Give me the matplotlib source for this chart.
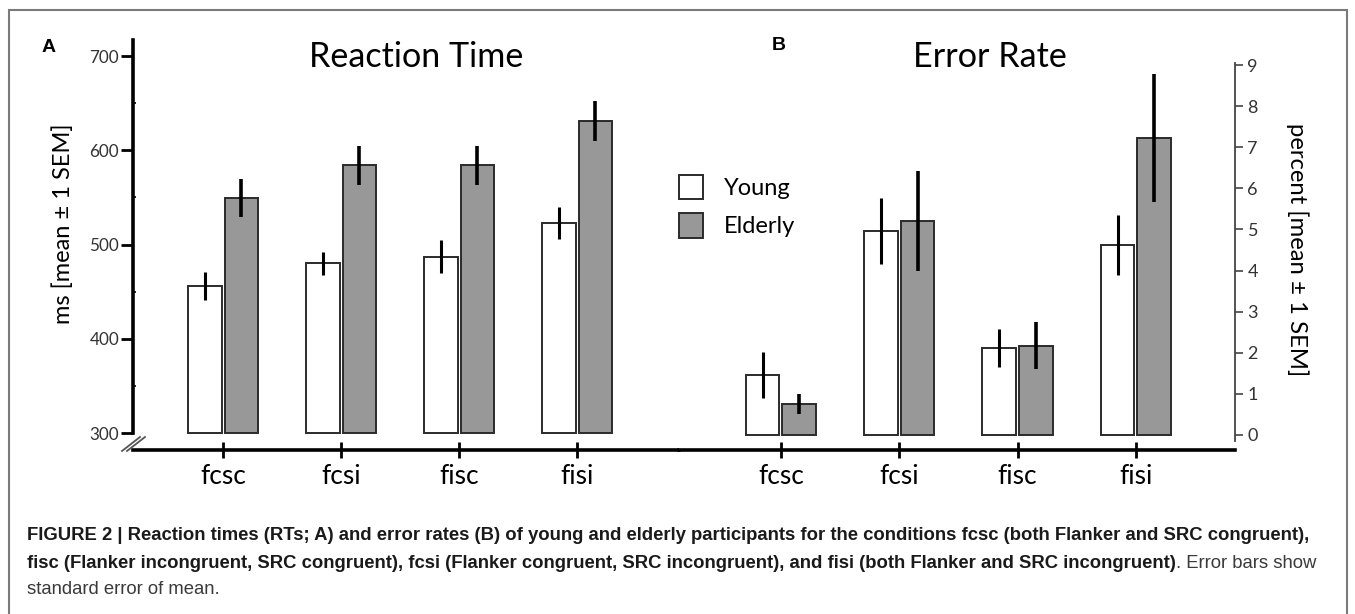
import numpy as np
import matplotlib
matplotlib.use('Agg')
import matplotlib.pyplot as plt
from matplotlib.lines import Line2D
from matplotlib.patches import Rectangle

# data
conditions = ['fcsc', 'fcsi', 'fisc', 'fisi']
groups = ['Young', 'Elderly']

rt_young = [456, 480, 487, 523]
rt_young_sem = [15, 12, 17.5, 17]
rt_elderly = [549, 584, 584, 631]
rt_elderly_sem = [20, 21, 21, 21.5]

er_young = [1.46, 4.96, 2.11, 4.62]
er_young_sem = [0.56, 0.80, 0.46, 0.73]
er_elderly = [0.75, 5.21, 2.17, 7.22]
er_elderly_sem = [0.25, 1.22, 0.57, 1.56]

caption_1 = ('FIGURE 2 | Reaction times (RTs; A) and error rates (B) of young and elderly '
             'participants for the conditions fcsc (both Flanker and SRC congruent),')
caption_2 = ('fisc (Flanker incongruent, SRC congruent), fcsi (Flanker congruent, SRC incongruent), '
             'and fisi (both Flanker and SRC incongruent)')
caption_2b = '. Error bars show'
caption_3 = 'standard error of mean.'

W, H = 1355, 614
FONT = 'Lato'
CAP_FONT = 'Liberation Sans'
ELDERLY_GREY = '#989898'
EDGE = '#2b2b2b'


def fx(x):
    return x / W


def fy(y):
    return 1 - y / H


plt.rcParams['font.family'] = [FONT, 'DejaVu Sans']
fig = plt.figure(figsize=(W / 100, H / 100), dpi=100)

ax1 = fig.add_axes([fx(133), fy(450), (679 - 133) / W, (450 - 40) / H])
ax2 = fig.add_axes([fx(679), fy(450), (1235 - 679) / W, (450 - 40) / H])

x = np.arange(len(conditions))
width = 0.285
off = 0.155


def draw_bars(ax, young, young_sem, elderly, elderly_sem, base):
    b1 = ax.bar(x - off, np.array(young) - base, width, bottom=base, color='white',
                edgecolor=EDGE, linewidth=1.4, label=groups[0], zorder=2)
    b2 = ax.bar(x + off, np.array(elderly) - base, width, bottom=base, color=ELDERLY_GREY,
                edgecolor=EDGE, linewidth=1.4, label=groups[1], zorder=2)
    ax.errorbar(x - off, young, yerr=young_sem, fmt='none', ecolor='black',
                elinewidth=2.2, capsize=0, zorder=3)
    ax.errorbar(x + off, elderly, yerr=elderly_sem, fmt='none', ecolor='black',
                elinewidth=2.6, capsize=0, zorder=3)
    return b1, b2


# Panel A: reaction time
b1, b2 = draw_bars(ax1, rt_young, rt_young_sem, rt_elderly, rt_elderly_sem, 300)
ax1.set_xlim(-0.763, 3.864)
ax1.set_ylim(282, 717)
for s in ['top', 'right']:
    ax1.spines[s].set_visible(False)
ax1.spines['left'].set_bounds(300, 717)
ax1.spines['left'].set_linewidth(2.6)
ax1.spines['bottom'].set_linewidth(2.6)
ax1.set_yticks([300, 400, 500, 600, 700])
ax1.set_yticks([350, 450, 550, 650], minor=True)
ax1.tick_params(axis='y', which='major', direction='out', length=9, width=2,
                labelsize=12.3, labelcolor='#333333', pad=1)
ax1.tick_params(axis='y', which='minor', direction='in', length=2.5, width=1.2)
ax1.set_xticks(x)
ax1.set_xticklabels(conditions)
ax1.tick_params(axis='x', direction='inout', length=12, width=2, labelsize=19, pad=4)

# Panel B: error rate
draw_bars(ax2, er_young, er_young_sem, er_elderly, er_elderly_sem, 0)
ax2.set_xlim(-0.862, 3.838)
ax2.set_ylim(-0.365, 9.61)
for s in ['top', 'left']:
    ax2.spines[s].set_visible(False)
ax2.spines['right'].set_bounds(-0.15, 9.05)
ax2.spines['right'].set_linewidth(1.3)
ax2.spines['right'].set_color('#444444')
ax2.spines['bottom'].set_linewidth(2.6)
ax2.yaxis.tick_right()
ax2.set_yticks(range(10))
ax2.tick_params(axis='y', direction='out', length=6, width=1.2, color='#444444',
                labelsize=13, labelcolor='#333333', pad=3)
ax2.set_xticks(x)
ax2.set_xticklabels(conditions)
ax2.tick_params(axis='x', direction='inout', length=12, width=2, labelsize=19, pad=4)

# titles, axis labels, panel letters
fig.text(fx(416), fy(57), 'Reaction Time', fontsize=24.6, ha='center', va='center')
fig.text(fx(990), fy(57), 'Error Rate', fontsize=24.6, ha='center', va='center')
fig.text(fx(63), fy(224), 'ms [mean \u00b1 1 SEM]', fontsize=17, rotation=90,
         ha='center', va='center')
fig.text(fx(1297), fy(250), 'percent [mean \u00b1 1 SEM]', fontsize=17.2, rotation=270,
         ha='center', va='center')
fig.text(fx(49), fy(47), 'A', fontsize=14, fontweight='bold', family=CAP_FONT,
         ha='center', va='center')
fig.text(fx(779), fy(45), 'B', fontsize=14, fontweight='bold', family=CAP_FONT,
         ha='center', va='center')

# legend
fig.legend(handles=[b1, b2], labels=groups, loc='upper left',
           bbox_to_anchor=(fx(679), fy(175)), frameon=False, fontsize=17,
           handlelength=1.0, handleheight=1.2, handletextpad=0.9,
           labelspacing=0.6, borderpad=0, borderaxespad=0)

# axis break marks
for dx in (0, 5):
    fig.add_artist(Line2D([fx(122 + dx), fx(140 + dx)], [fy(451), fy(437)],
                          color='#555555', lw=1.3))

# frame around the figure
fig.add_artist(Rectangle((fx(9), -0.05), fx(1347) - fx(9), fy(10) + 0.05,
                         fill=False, edgecolor='#7a7a7a', lw=1.5,
                         transform=fig.transFigure))

# caption
cap_size = 13.3
t1 = fig.text(fx(27), fy(536), caption_1, fontsize=cap_size, fontweight='bold',
              family=CAP_FONT, color='#1a1a1a', va='center')
t2 = fig.text(fx(27), fy(563), caption_2, fontsize=cap_size, fontweight='bold',
              family=CAP_FONT, color='#1a1a1a', va='center')
fig.text(fx(27), fy(590), caption_3, fontsize=cap_size, family=CAP_FONT,
         color='#3a3a3a', va='center')
renderer = fig.canvas.get_renderer()
bb = t2.get_window_extent(renderer)
fig.text(bb.x1 / W, fy(563), caption_2b, fontsize=cap_size, family=CAP_FONT,
         color='#3a3a3a', va='center')

fig.savefig('out.png', dpi=100)
